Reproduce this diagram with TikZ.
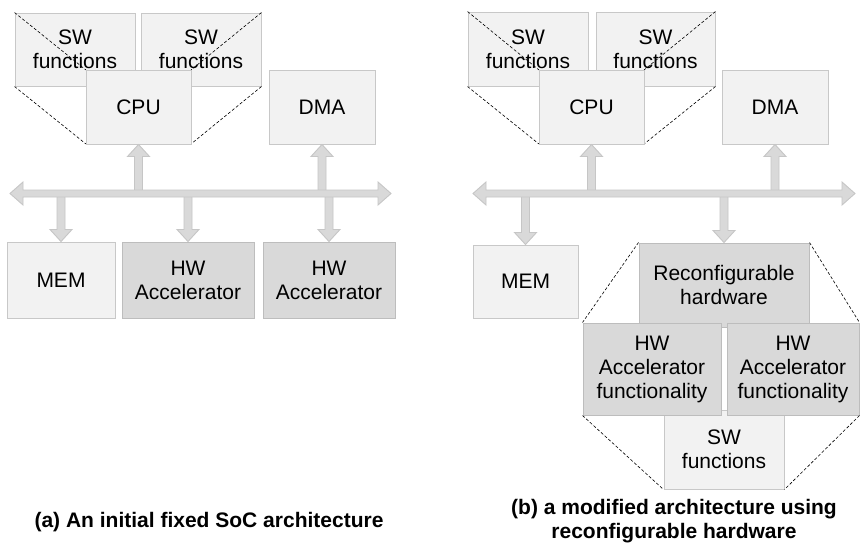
\documentclass[tikz,border=0pt]{standalone}
\usepackage{fontspec}
\setmainfont{Liberation Sans}
\usetikzlibrary{calc}
\definecolor{lightfill}{HTML}{F2F2F2}
\definecolor{lightdraw}{HTML}{C8C8C8}
\definecolor{darkfill}{HTML}{D9D9D9}
\definecolor{darkdraw}{HTML}{BDBDBD}
\definecolor{arrfill}{HTML}{D9D9D9}
\definecolor{arrdraw}{HTML}{C6C6C6}
\newcommand\boxfont{\fontsize{21}{24}\selectfont}
\newcommand\capfont{\bfseries\fontsize{21}{23.5}\selectfont}
\tikzset{
  lbox/.style={draw=lightdraw, fill=lightfill, line width=1pt, inner sep=0pt, align=center, font=\boxfont, text=black},
  dbox/.style={lbox, draw=darkdraw, fill=darkfill},
  blk/.style={draw=arrdraw, fill=arrfill, line width=0.9pt, line join=miter},
  dashline/.style={draw=black, line width=0.6pt, dash pattern=on 3pt off 2pt},
  capt/.style={font=\capfont, inner sep=0pt, text=black}
}
% box from (x1,y1) to (x2,y2)
\newcommand\mybox[7]{\node[#2, minimum width={(#5)-(#3)}, minimum height={(#6)-(#4)}] (#1) at ({((#3)+(#5))/2},{((#4)+(#6))/2}) {#7};}
% block arrows
\newcommand\blkup[2]{\path[blk] let \p1=(#1), \p2=(#2) in (\x2-4pt,\y1) -- (\x2-4pt,\y2-12pt) -- (\x2-11pt,\y2-12pt) -- (\p2) -- (\x2+11pt,\y2-12pt) -- (\x2+4pt,\y2-12pt) -- (\x2+4pt,\y1) -- cycle;}
\newcommand\blkdown[2]{\path[blk] let \p1=(#1), \p2=(#2) in (\x2-4pt,\y1) -- (\x2-4pt,\y2+12pt) -- (\x2-11pt,\y2+12pt) -- (\p2) -- (\x2+11pt,\y2+12pt) -- (\x2+4pt,\y2+12pt) -- (\x2+4pt,\y1) -- cycle;}
\newcommand\busarrow[2]{\path[blk] let \p1=(#1), \p2=(#2) in (\p1) -- (\x1+13pt,\y1+11.5pt) -- (\x1+13pt,\y1+3.5pt) -- (\x2-13pt,\y1+3.5pt) -- (\x2-13pt,\y1+11.5pt) -- (\p2) -- (\x2-13pt,\y1-11.5pt) -- (\x2-13pt,\y1-3.5pt) -- (\x1+13pt,\y1-3.5pt) -- (\x1+13pt,\y1-11.5pt) -- cycle;}
\begin{document}
\begin{tikzpicture}[x=1pt,y=-1pt]
\fill[white] (0,0) rectangle (860,549);
\useasboundingbox (0,0) rectangle (860,549);

% ---------------- (a) ----------------
\mybox{swa1}{lbox}{15}{13}{135}{86}{SW\\functions}
\mybox{swa2}{lbox}{141}{13}{261}{86}{SW\\functions}
\draw[dashline] (swa1.north west) -- (86,70);
\draw[dashline] (swa1.south west) -- (86,144);
\draw[dashline] (swa2.north east) -- (191,70);
\draw[dashline] (swa2.south east) -- (191,144);
\mybox{cpua}{lbox}{86}{70}{191}{144}{CPU}
\mybox{dmaa}{lbox}{269}{70}{375}{144}{DMA}
\mybox{mema}{lbox}{7}{242}{115}{318}{MEM}
\mybox{hwa1}{dbox}{122}{242}{254}{318}{HW\\Accelerator}
\mybox{hwa2}{dbox}{263}{242}{395}{318}{HW\\Accelerator}

\coordinate (busaC) at (200,193.5);
\coordinate (busaL) at (10,193.5);
\coordinate (busaR) at (391,193.5);
\blkup{cpua.south |- busaC}{cpua.south}
\blkup{dmaa.south |- busaC}{dmaa.south}
\blkdown{mema.north |- busaC}{mema.north}
\blkdown{hwa1.north |- busaC}{hwa1.north}
\blkdown{hwa2.north |- busaC}{hwa2.north}
\busarrow{busaL}{busaR}

\node[capt, anchor=base] (capa) at (209,527) {(a) An initial fixed SoC architecture};

% ---------------- (b) ----------------
\mybox{swb1}{lbox}{468}{12}{588}{86}{SW\\functions}
\mybox{swb2}{lbox}{596}{12}{715}{86}{SW\\functions}
\draw[dashline] (swb1.north west) -- (539,70);
\draw[dashline] (swb1.south west) -- (539,144);
\draw[dashline] (swb2.north east) -- (644,70);
\draw[dashline] (swb2.south east) -- (644,144);
\mybox{cpub}{lbox}{539}{70}{644}{144}{CPU}
\mybox{dmab}{lbox}{722}{70}{828}{144}{DMA}
\mybox{memb}{lbox}{473}{245}{578}{318}{MEM}
\mybox{reconf}{dbox}{639}{243}{809}{327}{Reconfigurable\\hardware}
\mybox{swf}{lbox}{664}{410}{784}{489}{SW\\functions}
\mybox{hwf1}{dbox}{583}{323}{721}{415}{HW\\Accelerator\\functionality}
\mybox{hwf2}{dbox}{727}{323}{859}{415}{HW\\Accelerator\\functionality}
\draw[dashline] (reconf.north west) -- (hwf1.north west);
\draw[dashline] (hwf1.south west) -- (swf.south west);
\draw[dashline] (reconf.north east) -- (hwf2.north east);
\draw[dashline] (hwf2.south east) -- (swf.south east);

\coordinate (busbC) at (660,193.5);
\coordinate (busbL) at (473,193.5);
\coordinate (busbR) at (855,193.5);
\blkup{cpub.south |- busbC}{cpub.south}
\blkup{dmab.south |- busbC}{dmab.south}
\blkdown{memb.north |- busbC}{memb.north}
\blkdown{reconf.north |- busbC}{reconf.north}
\busarrow{busbL}{busbR}

\node[capt, anchor=base, align=center] (capb) at (674,538) {(b) a modified architecture using\\reconfigurable hardware};
\end{tikzpicture}
\end{document}
